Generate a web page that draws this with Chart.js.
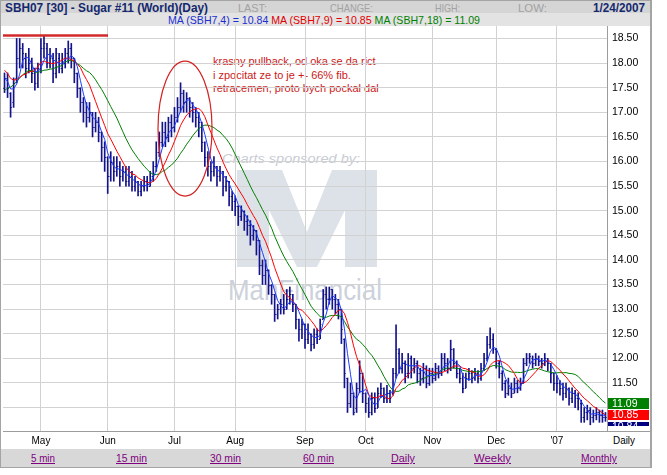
<!DOCTYPE html>
<html><head><meta charset="utf-8">
<script src="https://cdn.jsdelivr.net/npm/chart.js@4.4.0/dist/chart.umd.min.js"></script>
<style>
html,body{margin:0;padding:0;background:#fff;}
body{width:667px;height:475px;position:relative;overflow:hidden;font-family:"Liberation Sans",Arial,sans-serif;}
.abs{position:absolute;white-space:nowrap;transform-origin:0 0;display:inline-block;}
#frame{position:absolute;left:0;top:0;width:652px;height:468px;box-sizing:border-box;border:1px solid #a4a4a4;border-right:2px solid #a4a4a4;}
#row1{position:absolute;left:1px;top:1px;width:649px;height:12px;background:#d5d5d5;}
#row2{position:absolute;left:1px;top:13px;width:649px;height:13px;background:#e3e3e3;}
#links{position:absolute;left:1px;top:449px;width:649px;height:18px;background:#d8d8d8;}
.title{font-weight:bold;font-size:13px;line-height:13px;color:#14286e;}
.lab{font-size:10.5px;line-height:12px;color:#a2a2a2;}
.lnk{font-size:10.5px;line-height:12px;color:#800080;text-decoration:underline;}
#wrap{position:absolute;left:3px;top:26px;width:647px;height:422px;z-index:2;}
.wm{z-index:1;}
</style></head>
<body>
<div id="frame"></div>
<div id="row1"></div>
<div id="row2"></div>
<div id="links"></div>

<span class="abs title" style="left:5px;top:1px" data-w="203">SBH07 [30] - Sugar #11 (World)(Day)</span>
<span class="abs lab" style="left:238px;top:2px" data-w="29">LAST:</span>
<span class="abs lab" style="left:330px;top:2px" data-w="43">CHANGE:</span>
<span class="abs lab" style="left:435px;top:2px" data-w="25">HIGH:</span>
<span class="abs lab" style="left:518px;top:2px" data-w="29">LOW:</span>
<span class="abs title" style="left:593px;top:1px" data-w="52">1/24/2007</span>
<span class="abs" id="maLegend" style="left:168px;top:14px;font-size:11px;line-height:12px" data-w="312"></span>

<!-- watermark (under the chart canvas) -->
<span class="abs wm" style="left:222px;top:152px;font-size:12px;font-style:italic;color:#c8ccd4" data-w="138">Charts sponsored by:</span>
<svg class="wm" style="position:absolute;left:237px;top:170px" width="140" height="97">
  <polygon points="0,97 0,0 45,0 70,62 95,0 140,0 140,97 108,97 108,40 80,97 60,97 32,40 32,97" fill="#dde1e8"/>
</svg>
<span class="abs wm" style="left:228px;top:275px;font-size:30px;line-height:30px;color:#ccd2dc" data-w="154">ManFinancial</span>

<!-- note -->
<div class="abs" style="left:213px;top:55px;font-size:11px;line-height:13.5px;color:#cc1a1a;white-space:pre">krasny pullback, od oka se da rict
i zpocitat ze to je +- 66% fib.
retracemen, proto bych pockal dal</div>

<div id="wrap"><canvas id="c" width="647" height="422"></canvas></div>

<span class="abs" style="left:613px;top:435px;font-size:10px;line-height:12px;color:#000" data-w="22">Daily</span>
<span class="abs lnk" style="left:31px;top:452px" data-w="24">5 min</span>
<span class="abs lnk" style="left:116px;top:452px" data-w="31">15 min</span>
<span class="abs lnk" style="left:210px;top:452px" data-w="31">30 min</span>
<span class="abs lnk" style="left:303px;top:452px" data-w="31">60 min</span>
<span class="abs lnk" style="left:391px;top:452px" data-w="24">Daily</span>
<span class="abs lnk" style="left:474px;top:452px" data-w="37">Weekly</span>
<span class="abs lnk" style="left:581px;top:452px" data-w="36">Monthly</span>

<script>
// ---------------- DATA ----------------
const firstDay = '2006-04-12';
const lastDay  = '2007-01-24';
const holidays = ['2006-04-14','2006-05-29','2006-07-04','2006-09-04','2006-11-23','2006-12-25','2007-01-01'];
const monthTickLabels = ['May','Jun','Jul','Aug','Sep','Oct','Nov','Dec',"'07"];
const yTickMin = 11.0, yTickMax = 18.5, yTickStep = 0.5;

// closes before the visible window (used only for the moving averages)
const priorCloses = [16.6,16.7,16.8,16.9,17.0,17.0,17.1,17.2,17.95,18.1,18.0,17.9,18.0,17.9,17.8,17.7,17.6];

const opens = [
 17.5,17.7,17.4,17.2,17.7,18.1,18.3,18.1,17.9,18.0,17.8,17.6,
 17.9,18.3,18.3,18.0,18.1,17.8,18.1,17.9,18.0,18.2,18.3,18.1,17.8,17.5,17.2,17.0,16.9,17.0,16.7,16.8,16.6,16.3,
 16.1,15.7,16.0,15.8,15.9,15.7,15.8,15.6,15.7,15.5,15.6,15.4,15.5,15.6,15.5,15.7,15.9,16.2,16.4,16.6,16.5,16.8,
 16.7,16.9,17.1,17.4,17.2,17.3,17.1,17.0,16.9,16.8,16.4,16.1,15.9,15.8,15.9,15.7,15.8,15.5,15.6,15.3,
 15.2,15.1,14.9,15.0,14.8,14.7,14.5,14.6,14.4,13.9,13.7,13.8,13.5,13.3,12.9,13.0,13.1,13.0,13.2,13.3,13.1,12.8,12.6,
 12.7,12.4,12.5,12.3,12.5,12.4,12.8,13.3,13.2,13.4,13.2,13.1,13.0,12.4,11.6,11.1,11.3,11.0,11.4,11.7,
 11.3,11.1,10.9,11.2,11.0,11.3,11.4,11.2,11.3,11.3,11.7,12.1,11.8,11.9,11.7,12.0,11.8,11.9,11.7,11.6,11.8,11.5,
 11.7,11.6,11.8,11.7,12.0,11.9,11.8,12.2,11.9,11.7,11.6,11.4,11.6,11.7,11.6,11.7,11.6,11.8,12.0,12.3,12.4,
 12.2,11.9,11.7,11.5,11.3,11.4,11.3,11.5,11.4,11.5,11.9,12.0,12.0,11.9,12.0,11.95,11.9,12.0,11.9,11.7,
 11.5,11.5,11.4,11.3,11.4,11.2,11.3,11.2,11.1,10.8,10.9,10.95,10.8,10.85,10.9,10.85,10.8
];
const highs = [
 17.8,17.8,17.4,17.7,18.5,18.5,18.4,18.2,18.3,18.1,17.9,18.0,
 18.5,18.55,18.4,18.3,18.2,18.3,18.2,18.2,18.3,18.45,18.4,18.1,17.8,17.5,17.3,17.2,17.2,17.0,17.0,16.9,16.6,16.4,
 16.1,16.2,16.1,16.1,16.0,15.9,15.9,15.9,15.8,15.7,15.6,15.6,15.7,15.7,15.8,16.0,16.4,16.6,16.8,16.8,16.9,16.95,
 17.1,17.3,17.6,17.45,17.4,17.3,17.2,17.1,17.0,16.8,16.4,16.2,16.0,16.1,15.9,15.9,15.8,15.7,15.6,15.4,
 15.3,15.1,15.1,15.0,14.9,14.8,14.7,14.6,14.4,14.0,14.0,13.8,13.5,13.3,13.1,13.2,13.3,13.4,13.45,13.3,13.1,12.8,12.8,
 12.7,12.7,12.5,12.6,12.6,12.8,13.4,13.45,13.45,13.4,13.3,13.2,13.0,12.4,11.6,11.5,11.3,11.5,11.95,11.7,
 11.3,11.2,11.3,11.3,11.4,11.5,11.4,11.45,11.35,11.8,12.68,12.2,12.1,11.95,12.1,12.05,12.0,11.95,11.8,11.9,11.85,11.8,
 11.8,11.9,11.85,12.1,12.1,12.0,12.37,12.2,11.95,11.8,11.7,11.7,11.8,11.75,11.8,11.75,11.9,12.1,12.45,12.62,12.5,
 12.2,11.95,11.75,11.55,11.6,11.5,11.6,11.55,11.6,12.0,12.1,12.1,12.05,12.1,12.05,12.0,12.1,12.0,11.9,11.7,
 11.65,11.55,11.5,11.5,11.4,11.4,11.35,11.3,11.15,11.0,11.05,11.0,10.95,11.0,10.95,10.95,10.9
];
const lows = [
 17.4,17.3,16.9,17.1,17.6,17.9,17.9,17.7,17.8,17.6,17.45,17.5,
 17.8,18.1,17.9,17.9,17.6,17.7,17.8,17.8,17.9,18.0,17.9,17.6,17.3,17.0,16.8,16.7,16.8,16.5,16.6,16.4,16.0,15.8,
 15.35,15.6,15.6,15.7,15.5,15.6,15.5,15.5,15.4,15.4,15.3,15.3,15.4,15.4,15.5,15.6,15.8,16.1,16.3,16.3,16.4,16.5,
 16.6,16.8,17.0,17.0,17.0,16.9,16.8,16.7,16.5,16.2,15.9,15.7,15.6,15.7,15.5,15.6,15.3,15.4,15.1,15.0,
 14.9,14.7,14.8,14.6,14.5,14.3,14.4,14.1,13.7,13.5,13.5,13.3,13.1,12.75,12.8,12.9,12.9,13.0,13.1,12.95,12.6,12.35,12.4,
 12.2,12.3,12.15,12.2,12.3,12.4,12.8,13.0,13.1,13.0,12.9,12.8,12.3,11.4,10.9,11.0,10.85,10.9,11.3,11.1,
 10.9,10.8,10.85,10.9,11.0,11.2,11.1,11.1,11.1,11.25,11.6,11.7,11.7,11.5,11.6,11.6,11.7,11.5,11.45,11.5,11.4,11.45,
 11.5,11.55,11.6,11.65,11.75,11.7,11.75,11.8,11.6,11.5,11.3,11.4,11.55,11.5,11.55,11.5,11.55,11.75,11.95,12.2,12.1,
 11.8,11.6,11.35,11.2,11.25,11.2,11.3,11.3,11.35,11.5,11.85,11.9,11.8,11.85,11.85,11.8,11.85,11.75,11.5,11.35,
 11.3,11.25,11.15,11.2,11.05,11.1,11.0,10.95,10.7,10.7,10.75,10.65,10.7,10.75,10.7,10.7,10.72
];
const closes = [
 17.7,17.5,17.1,17.6,18.1,18.3,18.2,17.9,18.0,17.8,17.6,17.9,
 18.3,18.4,18.0,18.1,17.8,18.2,17.9,18.0,18.2,18.3,18.1,17.8,17.5,17.2,17.0,16.9,17.0,16.7,16.8,16.6,16.3,16.1,
 15.7,16.0,15.8,15.9,15.7,15.8,15.6,15.7,15.5,15.6,15.4,15.5,15.6,15.5,15.7,15.9,16.2,16.4,16.6,16.5,16.8,16.7,
 16.9,17.1,17.4,17.2,17.3,17.1,17.0,16.9,16.8,16.4,16.1,15.9,15.8,15.9,15.7,15.8,15.5,15.6,15.3,15.2,
 15.1,14.9,15.0,14.8,14.7,14.5,14.6,14.4,13.9,13.7,13.8,13.5,13.3,12.9,13.0,13.1,13.0,13.2,13.3,13.1,12.8,12.6,12.7,
 12.4,12.5,12.3,12.5,12.4,12.7,13.3,13.2,13.4,13.2,13.1,13.0,12.6,11.7,11.1,11.3,10.9,11.4,11.7,11.3,
 11.1,10.9,11.2,11.0,11.3,11.4,11.2,11.3,11.2,11.7,12.2,11.8,11.9,11.7,12.0,11.8,11.9,11.7,11.6,11.8,11.5,11.7,
 11.6,11.8,11.7,12.0,11.9,11.8,12.2,11.9,11.7,11.6,11.4,11.6,11.7,11.6,11.7,11.6,11.8,12.0,12.3,12.4,12.2,
 11.9,11.7,11.5,11.3,11.4,11.3,11.5,11.4,11.5,11.9,12.0,12.05,11.9,12.0,11.95,11.9,12.0,11.9,11.7,11.5,
 11.5,11.4,11.3,11.4,11.2,11.3,11.2,11.2,10.8,10.9,10.95,10.8,10.85,10.9,10.85,10.8,10.8
];
const maPeriods = [4, 9, 18];

// annotation drawn on the chart (red resistance line, ellipse)
const resistLevel = 18.56, resistEndIdx = 34.1;
const ellipseCenterIdx = 59.47, ellipseHalfIdx = 8.9, ellipseCenterVal = 16.67, ellipseHalfVal = 1.372;

// ---------------- BUILD ----------------
function iso(d){ return d.toISOString().slice(0,10); }
const dates = [];
for (let d = new Date(firstDay + 'T00:00:00Z'); iso(d) <= lastDay; d.setUTCDate(d.getUTCDate()+1)) {
  const wd = d.getUTCDay();
  if (wd === 0 || wd === 6 || holidays.includes(iso(d))) continue;
  dates.push(iso(d));
}
const tickText = dates.map(() => '');
const monthStart = dates.map(() => false);
let mk = 0;
for (let i = 1; i < dates.length; i++) {
  if (dates[i].slice(5,7) !== dates[i-1].slice(5,7)) { monthStart[i] = true; tickText[i] = monthTickLabels[mk++]; }
}
const allCloses = priorCloses.concat(closes);
function sma(n) {
  return closes.map((_, i) => {
    const k = i + priorCloses.length; let s = 0;
    for (let j = k - n + 1; j <= k; j++) s += allCloses[j];
    return s / n;
  });
}
const [ma4, ma9, ma18] = maPeriods.map(sma);
const L = closes.length - 1;

const COL_BAR = '#14148a', COL_MA4 = '#1e3cff', COL_MA9 = '#ff0000', COL_MA18 = '#008000';
const FONT = '"Liberation Sans", Arial, sans-serif';

document.getElementById('maLegend').innerHTML =
  '<span style="color:#1c2fd0">MA (SBH7,4) = ' + ma4[L].toFixed(2) + '</span> ' +
  '<span style="color:#e00000">MA (SBH7,9) = ' + ma9[L].toFixed(2) + '</span> ' +
  '<span style="color:#008000">MA (SBH7,18) = ' + ma18[L].toFixed(2) + '</span>';

// y range chosen so that the 0.5 grid falls where it does in the picture
const Y_MIN = 10.524, Y_MAX = 18.754;

const ohlcTicks = {
  id: 'ohlcTicks',
  afterDatasetsDraw(chart) {
    const meta = chart.getDatasetMeta(3), y = chart.scales.y, ctx = chart.ctx;
    ctx.save(); ctx.strokeStyle = COL_BAR; ctx.lineWidth = 1; ctx.beginPath();
    meta.data.forEach((el, i) => {
      const x = el.x;
      const yo = Math.round(y.getPixelForValue(opens[i])) + 0.5;
      const yc = Math.round(y.getPixelForValue(closes[i])) + 0.5;
      ctx.moveTo(x - 1.2, yo); ctx.lineTo(x, yo);
      ctx.moveTo(x, yc); ctx.lineTo(x + 1.2, yc);
    });
    ctx.stroke(); ctx.restore();
  }
};

const annot = {
  id: 'annot',
  afterDatasetsDraw(chart) {
    const {ctx, scales: {x, y}, chartArea} = chart;
    ctx.save();
    ctx.strokeStyle = '#d22a2a';
    ctx.lineWidth = 2.5;
    const yy = y.getPixelForValue(resistLevel);
    ctx.beginPath(); ctx.moveTo(chartArea.left, yy); ctx.lineTo(x.getPixelForValue(resistEndIdx), yy); ctx.stroke();
    const cx = x.getPixelForValue(ellipseCenterIdx), cy = y.getPixelForValue(ellipseCenterVal);
    const rx = x.getPixelForValue(ellipseCenterIdx + ellipseHalfIdx) - cx;
    const ry = y.getPixelForValue(ellipseCenterVal - ellipseHalfVal) - cy;
    ctx.lineWidth = 1.2; ctx.strokeStyle = '#d42020';
    ctx.beginPath(); ctx.ellipse(cx, cy, rx, ry, 0, 0, Math.PI * 2); ctx.stroke();
    ctx.restore();
  }
};

const frameLines = {
  id: 'frameLines',
  afterDraw(chart) {
    const {ctx, chartArea, scales: {y}} = chart;
    ctx.save();
    ctx.strokeStyle = '#9c9c9c'; ctx.lineWidth = 1;
    ctx.beginPath(); ctx.moveTo(chartArea.left, Math.round(chartArea.bottom) + 0.5);
    ctx.lineTo(chart.width, Math.round(chartArea.bottom) + 0.5); ctx.stroke();
    // last-value boxes on the price axis
    const bx = chartArea.right + 1, bw = 41;
    ctx.font = '10.5px ' + FONT; ctx.textBaseline = 'middle';
    const gy = Math.round(y.getPixelForValue(ma18[L])) - 5;
    ctx.fillStyle = COL_MA18; ctx.fillRect(bx, gy, bw, 11);
    ctx.fillStyle = '#fff'; ctx.fillText(ma18[L].toFixed(2), bx + 4, gy + 6);
    const ry = Math.max(Math.round(y.getPixelForValue(ma9[L])) - 5, gy + 12);
    ctx.fillStyle = COL_MA9; ctx.fillRect(bx, ry, bw, 10);
    ctx.fillStyle = '#fff'; ctx.fillText(ma9[L].toFixed(2), bx + 4, ry + 5.5);
    const ny = ry + 12;
    ctx.fillStyle = '#000080'; ctx.fillRect(bx, ny, bw, 4);
    ctx.beginPath(); ctx.rect(bx, ny, bw, 4); ctx.clip();
    ctx.fillStyle = '#fff'; ctx.fillText(ma4[L].toFixed(2), bx + 4, ny + 5);
    ctx.restore();
  }
};

new Chart(document.getElementById('c'), {
  type: 'bar',
  data: {
    labels: dates,
    datasets: [
      {type: 'line', label: 'MA4', data: ma4, borderColor: COL_MA4, borderWidth: 1, pointRadius: 0, fill: false, order: 1},
      {type: 'line', label: 'MA9', data: ma9, borderColor: COL_MA9, borderWidth: 1, pointRadius: 0, fill: false, order: 2},
      {type: 'line', label: 'MA18', data: ma18, borderColor: COL_MA18, borderWidth: 1, pointRadius: 0, fill: false, order: 3},
      {type: 'bar', label: 'SBH07', data: lows.map((l, i) => [l, highs[i]]), backgroundColor: COL_BAR, barThickness: 1, order: 4}
    ]
  },
  options: {
    responsive: false, animation: false, devicePixelRatio: 1,
    layout: {padding: 0},
    plugins: {legend: {display: false}, tooltip: {enabled: false}},
    scales: {
      x: {
        offset: true,
        grid: {offset: false, drawTicks: false, color: c => monthStart[c.index] ? '#d2d2d2' : 'rgba(0,0,0,0)'},
        border: {display: true, color: '#9c9c9c'},
        ticks: {autoSkip: false, maxRotation: 0, minRotation: 0, padding: 4, color: '#000',
                font: {size: 10, family: FONT}, callback: (v, i) => tickText[i]},
        afterFit: s => { s.height = 17; s.paddingLeft = 0; s.paddingRight = 0; }
      },
      y: {
        position: 'right', min: Y_MIN, max: Y_MAX,
        grid: {drawTicks: false, color: '#d2d2d2'},
        border: {display: true, color: '#9c9c9c'},
        ticks: {stepSize: yTickStep, includeBounds: false, padding: 5, color: '#000',
                font: {size: 10.5, family: FONT},
                callback: v => (v < yTickMin + 0.01 || v > yTickMax + 0.01) ? '' : v.toFixed(2)},
        afterFit: s => { s.width = 43; s.paddingTop = 0; s.paddingBottom = 0; }
      }
    }
  },
  plugins: [ohlcTicks, annot, frameLines]
});

document.querySelectorAll('[data-w]').forEach(el => {
  const w = +el.dataset.w, r = el.getBoundingClientRect().width;
  if (r > 0) el.style.transform = 'scaleX(' + (w / r) + ')';
});
</script>
</body></html>
